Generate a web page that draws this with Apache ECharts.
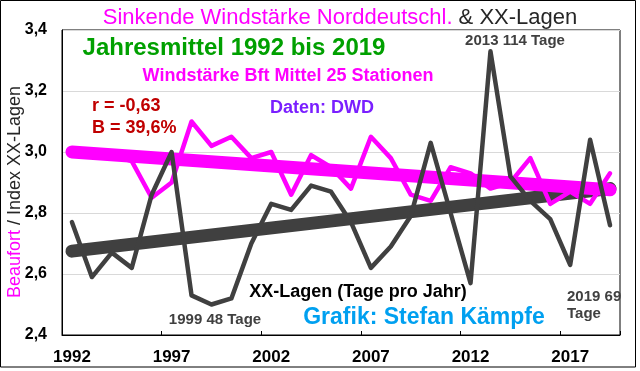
<!DOCTYPE html>
<html>
<head>
<meta charset="utf-8">
<script src="https://cdn.jsdelivr.net/npm/echarts@6/dist/echarts.min.js"></script>
<style>
html,body{margin:0;padding:0;background:#fff;}
#c{width:640px;height:371px;}
</style>
</head>
<body>
<div id="c"></div>
<script>
// ---- data ----
const years = ['1992','1993','1994','1995','1996','1997','1998','1999','2000','2001',
  '2002','2003','2004','2005','2006','2007','2008','2009','2010','2011',
  '2012','2013','2014','2015','2016','2017','2018','2019'];
// Windstärke Bft Mittel 25 Stationen
const windBft = [3.00, 3.00, 2.99, 2.97, 2.85, 2.90, 3.10, 3.02, 3.05, 2.98,
  3.00, 2.86, 2.99, 2.95, 2.88, 3.05, 2.98, 2.86, 2.84, 2.95,
  2.93, 2.88, 2.90, 2.98, 2.83, 2.87, 2.83, 2.93];
// Index XX-Lagen
const xxIndex = [2.77, 2.59, 2.67, 2.62, 2.86, 3.00, 2.53, 2.50, 2.52, 2.70,
  2.83, 2.81, 2.89, 2.87, 2.77, 2.62, 2.69, 2.79, 3.03, 2.80,
  2.57, 3.33, 2.92, 2.84, 2.78, 2.63, 3.04, 2.76];
// linear trend lines: value at first and last year
const windTrend = [3.00, 2.876];
const xxTrend = [2.675, 2.88];
// y axis
const yMin = 2.4, yMax = 3.4, yStep = 0.2;

const chart = echarts.init(document.getElementById('c'), null, {renderer: 'canvas'});
const FF = '"Liberation Sans", Arial, sans-serif';
const first = years[0], last = years[years.length - 1];

function txt(x, y, text, size, color, align, bold) {
  return {
    type: 'text', z: 100, x: x, y: y,
    style: {
      text: text, fill: color, align: align || 'center', verticalAlign: 'middle',
      font: (bold === false ? '' : 'bold ') + size + 'px ' + FF
    }
  };
}

chart.setOption({
  animation: false,
  backgroundColor: '#fff',
  grid: {left: 62, right: 20, top: 30, bottom: 36, show: true, borderColor: '#000', borderWidth: 1,
         containLabel: false, outerBoundsMode: 'none'},
  xAxis: {
    type: 'category', data: years, boundaryGap: true,
    axisLine: {lineStyle: {color: '#000', width: 1}},
    axisTick: {show: true, inside: true, length: 4, interval: 4, lineStyle: {color: '#000'}},
    axisLabel: {interval: 4, margin: 14, color: '#000', fontSize: 17, fontWeight: 'bold', fontFamily: FF},
    splitLine: {show: false}
  },
  yAxis: {
    type: 'value', min: yMin, max: yMax, interval: yStep,
    axisLine: {show: true, lineStyle: {color: '#000', width: 1}},
    axisTick: {show: false},
    axisLabel: {margin: 15, color: '#000', fontSize: 16, fontWeight: 'bold', fontFamily: FF,
      formatter: v => v.toFixed(1).replace('.', ',')},
    splitLine: {show: true, lineStyle: {color: '#d9d9d9', width: 1}}
  },
  series: [
    {type: 'line', name: 'xxTrend', data: [[first, xxTrend[0]], [last, xxTrend[1]]],
     symbol: 'none', z: 2, lineStyle: {color: '#404040', width: 13, cap: 'round'}},
    {type: 'line', name: 'windTrend', data: [[first, windTrend[0]], [last, windTrend[1]]],
     symbol: 'none', z: 3, lineStyle: {color: '#ff00ff', width: 13, cap: 'round'}},
    {type: 'line', name: 'wind', data: windBft, symbol: 'none', z: 4,
     lineStyle: {color: '#ff00ff', width: 4.5, join: 'round', cap: 'round'}},
    {type: 'line', name: 'xx', data: xxIndex, symbol: 'none', z: 5,
     lineStyle: {color: '#404040', width: 4.5, join: 'round', cap: 'round'}}
  ],
  graphic: [
    {type: 'rect', z: 90, shape: {x: 0.5, y: 0.5, width: 635, height: 366.5},
     style: {fill: 'none', stroke: '#000', lineWidth: 1}},
    {type: 'text', z: 100, x: 340, y: 18,
     style: {text: '{a|Sinkende Windstärke Norddeutschl.}{b| & XX-Lagen}', align: 'center', verticalAlign: 'middle',
       rich: {a: {fill: '#ff00ff', fontSize: 22, fontFamily: FF}, b: {fill: '#262626', fontSize: 22, fontFamily: FF}}}},
    {type: 'text', z: 100, x: 15, y: 192, rotation: Math.PI / 2,
     style: {text: '{a|Beaufort}{b| / Index XX-Lagen}', align: 'center', verticalAlign: 'middle',
       rich: {a: {fill: '#ff00ff', fontSize: 18, fontFamily: FF}, b: {fill: '#262626', fontSize: 18, fontFamily: FF}}}},
    txt(234, 48, 'Jahresmittel 1992 bis 2019', 24, '#00a000'),
    txt(288, 76, 'Windstärke Bft Mittel 25 Stationen', 18, '#ff00ff'),
    txt(92, 106, 'r = -0,63', 18, '#c00000', 'left'),
    txt(92, 128, 'B = 39,6%', 18, '#c00000', 'left'),
    txt(322, 108, 'Daten: DWD', 18, '#7a1fff'),
    txt(515, 41, '2013 114 Tage', 15, '#404040'),
    txt(358, 292, 'XX-Lagen (Tage pro Jahr)', 18, '#000'),
    txt(215, 320, '1999 48 Tage', 15, '#404040'),
    txt(424, 318, 'Grafik: Stefan Kämpfe', 23, '#00a0f0'),
    txt(567, 297, '2019 69', 15, '#404040', 'left'),
    txt(567, 314, 'Tage', 15, '#404040', 'left')
  ]
});
</script>
</body>
</html>
